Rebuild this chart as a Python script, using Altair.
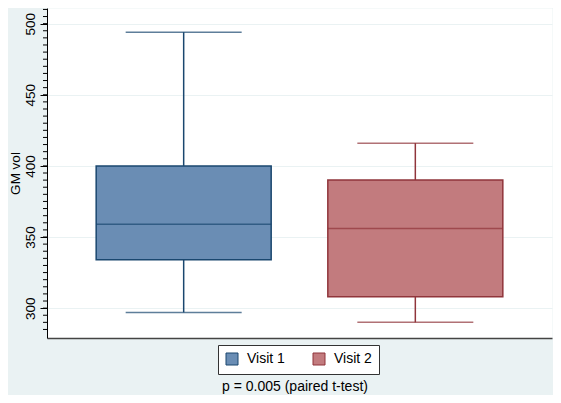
import altair as alt
import pandas as pd

visits = ["Visit 1", "Visit 2"]
lower_whisker = [297, 290]
q1 = [334, 308]
median = [359, 356]
q3 = [400, 390]
upper_whisker = [494, 416]
y_ticks = [300, 350, 400, 450, 500]
minor_ticks = list(range(285, 511, 5))
caption = ["p = 0.005 (paired t-test)"]

df = pd.DataFrame({"visit": visits, "lo": lower_whisker, "q1": q1,
                   "med": median, "q3": q3, "hi": upper_whisker})
cap_df = pd.DataFrame({"caption": caption})
minor_df = pd.DataFrame({"t": minor_ticks})

FILL = ["#6a8db4", "#c27b7e"]
STROKE = ["#1a476f", "#90353b"]
FONT = "Liberation Sans"
BG = "#eaf2f3"

yscale = alt.Scale(domain=[279, 511], nice=False, zero=False)
xscale = alt.Scale(type="point", padding=0.59)

x_enc = alt.X("visit:N", scale=xscale, sort=visits,
              axis=alt.Axis(labels=False, ticks=False, title=None, domain=True,
                            domainColor="#444", domainWidth=1.5, grid=False))
dark = alt.condition(alt.datum.visit == visits[0], alt.value(STROKE[0]), alt.value(STROKE[1]))

main_axis = alt.Axis(values=y_ticks, title="GM vol", labelAngle=-90, labelAlign="center",
                     labelBaseline="bottom", labelPadding=3, tickSize=7, tickColor="black",
                     tickWidth=1, domainColor="black", domainWidth=1, grid=True,
                     gridColor=BG, gridWidth=1.2, labelFont=FONT, labelFontSize=13.5,
                     labelColor="black", titleFont=FONT, titleFontSize=13.5,
                     titleFontWeight="normal", titleColor="black",
                     titleAngle=270, titleX=-32, titleY=165, titleAlign="center",
                     titleBaseline="middle")

leg = alt.Legend(orient="none", legendX=171, legendY=337, direction="horizontal", title=None,
                 symbolType="square", symbolSize=144, symbolStrokeWidth=1,
                 labelFont=FONT, labelFontSize=14, labelColor="black", labelOffset=8,
                 columnPadding=26, padding=7, strokeColor="#333", fillColor="white")


def yq(field):
    return alt.Y(field, scale=yscale, axis=main_axis, title="GM vol")


base = alt.Chart(df)

minor = alt.Chart(minor_df).mark_rule(color="black", strokeWidth=1).encode(
    y=yq("t:Q"), x=alt.value(-4), x2=alt.value(0))
whisk_lo = base.mark_rule(strokeWidth=1.5).encode(
    x=x_enc, y=yq("lo:Q"), y2="q1:Q", color=dark)
whisk_hi = base.mark_rule(strokeWidth=1.5).encode(
    x=x_enc, y=yq("q3:Q"), y2="hi:Q", color=dark)
box = base.mark_bar(size=175, strokeWidth=1.5).encode(
    x=x_enc,
    y=yq("q1:Q"), y2="q3:Q",
    fill=alt.Fill("visit:N", scale=alt.Scale(domain=visits, range=FILL), legend=leg),
    stroke=alt.Stroke("visit:N", scale=alt.Scale(domain=visits, range=STROKE), legend=leg))
med = base.mark_tick(size=175, thickness=1.5).encode(
    x=x_enc, y=yq("med:Q"), color=dark)
cap_lo = base.mark_tick(size=116, thickness=1.5).encode(
    x=x_enc, y=yq("lo:Q"), color=dark)
cap_hi = base.mark_tick(size=116, thickness=1.5).encode(
    x=x_enc, y=yq("hi:Q"), color=dark)
text = alt.Chart(cap_df).mark_text(font=FONT, fontSize=14, color="black").encode(
    x=alt.value(248), y=alt.value(379), text="caption:N")

chart = alt.layer(whisk_lo, whisk_hi, box, med, cap_lo, cap_hi, minor, text).properties(
    width=505, height=330,
    autosize=alt.AutoSizeParams(type="none"),
    padding={"left": 39, "top": 0, "right": 1, "bottom": 57},
    background=BG,
).configure_view(fill="white", stroke="transparent")

chart.save("out.html", embed_options={"renderer": "svg", "actions": False})
